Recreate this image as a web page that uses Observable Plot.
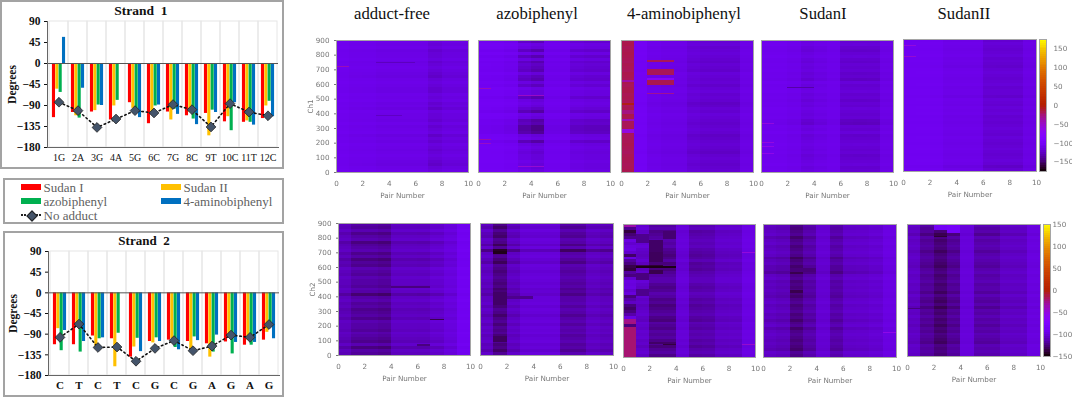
<!DOCTYPE html>
<html><head><meta charset="utf-8">
<script src="https://cdn.jsdelivr.net/npm/d3@7"></script>
<script src="https://cdn.jsdelivr.net/npm/@observablehq/plot@0.6"></script>
<style>
html,body{margin:0;padding:0;background:#fff;width:1072px;height:398px;overflow:hidden;position:relative}
.abs{position:absolute}
.box{position:absolute;border:2px solid #a3a3a3;box-sizing:border-box;background:#fff}
.serif{font-family:"Liberation Serif",serif}
.wrap{position:absolute}
.wrap svg,.abs svg{display:block;max-width:none;overflow:visible}
.wrap svg{filter:blur(.35px)}
</style></head><body>
<script>
// ---------- bar charts ----------
const strand1Labels=["1G","2A","3G","4A","5G","6C","7G","8C","9T","10C","11T","12C"];
const s1Sudan1=[-116,-105,-104,-121,-84,-129,-104,-112,-107,-125,-126,-118];
const s1Sudan2=[-55,-112,-101,-91,-96,-105,-121,-105,-155,-114,-123,-91];
const s1Azo=[-62,-117,-89,-79,-105,-91,-98,-119,-100,-144,-126,-81];
const s1Amino=[56,-53,-90,null,-116,-89,-109,-131,-105,-84,-132,-114];
const s1None=[-83,-101,-137,-119,-101,-106,-88,-99,-136,-86,-104,-112];
const strand2Labels=["C","T","C","T","C","G","C","G","A","G","A","G"];
const s2Sudan1=[-113,-113,-94,-100,-140,-106,-103,-106,-111,-107,-114,-103];
const s2Sudan2=[-78,-69,-118,-161,-118,-109,-100,-125,-140,-93,-103,-86];
const s2Azo=[-126,-129,-100,-88,-99,-98,-119,-96,-129,-133,-114,-74];
const s2Amino=[-82,-106,-98,null,-128,-106,-124,-104,-92,-108,-108,-100];
const s2None=[-97,-68,-119,-118,-149,-121,-104,-126,-116,-92,-97,-69];
const yTicks=[90,45,0,-45,-90,-135,-180];
const barColors=["#ff0000","#ffc000","#00b050","#0070c0"];
const legendItems=["Sudan I","Sudan II","azobiphenyl","4-aminobiphenyl"];

// ---------- heat maps: one base and one stripe strength per pair column, one stripe level per row (top to bottom) ----------
const t1Base=[-108,-110,-110,-112,-112,-112,-112,-119,-115,-115];
const t1Amp=[.8,1,1.2,1.6,1.6,1.5,1.5,3,2.2,2.2];
const t1Rows=[1,2,1,3,2,2,1,3,2,1,2,3,4,2,1,2,3,3,1,2,1,3,2,4,1,2,2,3,1,3,2,1,4,2,3,1,2,3,2,1,2,3,4,2,1];
const t1Streaks=[[0,1,715,725,-45],[3,6,740,750,-128],[3,5,380,388,-126]];
const t2Base=[-104,-104,-106,-114,-118,-108,-108,-114,-116,-116];
const t2Amp=[.6,.8,1,3.2,3.6,.8,.8,1.8,1.8,1.8];
const t2Rows=[5,1,2,6,1,6,2,6,4,5,6,2,5,6,2,5,1,2,2,6,2,1,2,4,7,1,2,7,6,9,9,8,2,1,7,2,1,2,3,2,2,1,2,2,1];
const t2Streaks=[[0,1,565,575,-45],[0,1,215,228,-40],[0,1,188,195,-50],[3,5,515,525,-50],[3,5,35,43,-55]];
const t3Base=[-18,-104,-110,-112,-112,-118,-120,-120,-120,-112];
const t3Amp=[1,.6,1,1,1,1.8,2,2,2,1];
const t3Rows=[2,1,3,2,1,2,3,4,2,3,4,1,2,3,2,4,2,1,3,2,3,5,4,2,3,1,2,3,4,3,2,3,5,4,3,2,3,4,5,3,2,3,4,3,2];
const t3Streaks=[[0,1,615,630,-40],[0,1,460,470,-5],[0,1,265,295,-60],[0,1,350,362,-45],[0,1,395,420,-30],[2,4,752,765,-20],[2,4,660,700,-20],[2,4,630,640,-75],[2,4,590,630,-18],[2,4,530,540,-35]];
const t4Base=[-108,-108,-110,-115,-112,-110,-120,-120,-120,-112];
const t4Amp=[.7,.8,1,2,1.5,.8,2,2.2,2,1];
const t4Rows=[2,1,3,4,2,1,3,4,2,3,2,4,3,5,1,3,2,1,3,2,4,2,3,1,2,3,2,5,6,2,3,1,4,3,2,1,2,3,2,4,3,2,1,3,2];
const t4Streaks=[[2,4,570,582,-135],[0,1,325,332,-60],[0,1,195,202,-60],[0,1,170,176,-65],[0,1,120,127,-65]];
const t5Base=[-106,-106,-107,-111,-111,-111,-120,-120,-120,-113];
const t5Amp=[.5,.6,.8,1.2,1.2,1.2,1.6,1.8,1.8,1];
const t5Rows=[3,1,2,3,2,1,3,2,3,4,2,1,2,3,2,1,3,2,2,4,1,2,3,1,2,1,3,2,3,2,1,2,3,1,2,3,2,1,2,3,2,1,2,5,2];
const t5Streaks=[[0,1,855,862,-60],[0,1,780,786,-55]];
const b1Base=[-108,-113,-113,-115,-106,-106,-106,-102,-98,-90];
const b1Amp=[2,3,3,3,2,2,2.2,2.2,1.4,.6];
const b1Rows=[3,4,2,5,3,2,6,4,3,2,5,3,6,4,5,2,3,4,2,3,3,4,2,3,7,3,2,4,3,5,4,3,5,2,3,3,4,2,3,4,5,2,6,3,4];
const b1Streaks=[[7,8,240,248,-135],[6,7,60,75,-125],[4,7,460,468,-125]];
const b2Base=[-106,-120,-106,-100,-100,-100,-113,-113,-106,-108];
const b2Amp=[2.5,3.2,2.4,1.6,1.6,1.6,2.6,2.6,2,2];
const b2Rows=[3,5,2,4,5,2,3,6,2,9,3,2,4,6,2,3,4,3,2,3,4,3,5,4,6,3,3,2,4,2,3,5,3,2,4,2,3,2,4,3,2,4,3,5,2];
const b2Streaks=[[1,2,690,712,-145],[1,2,340,430,-130],[2,3,395,405,-130],[2,4,385,405,-122],[1,2,90,130,-132]];
const b3Base=[-30,-102,-114,-114,-100,-110,-110,-104,-104,-96];
const b3Amp=[0,2,3,3,1.2,2.4,2,1.8,1.6,.8];
const b3Rows=[3,2,5,4,3,2,3,2,4,5,6,5,3,6,5,6,4,3,2,2,4,5,4,2,3,5,4,6,5,4,3,5,6,3,4,5,3,4,3,5,4,6,4,3,5];
const b3FirstColumn=[-35,-122,-138,-128,-122,-98,-105,-100,-98,-105,-130,-98,-118,-125,-135,-138,-118,-125,-105,-98,-100,-98,-105,-100,-125,-115,-108,-125,-130,-125,-115,-98,-28,-25,-125,-22,-22,-22,-22,-22,-22,-22,-22,-22,-22];
const b3Streaks=[[1,2,770,830,-122],[1,2,610,620,-135],[1,2,520,570,-125],[1,2,410,460,-122],[3,4,800,855,-128],[2,3,700,790,-130],[2,3,640,710,-132],[2,3,600,620,-140],[1,4,600,618,-146],[2,3,560,590,-135],[2,4,85,100,-130],[3,4,80,90,-138],[9,10,705,712,-50],[9,10,80,85,-45]];
const b4Base=[-106,-108,-120,-112,-102,-112,-104,-104,-102,-97];
const b4Amp=[2.2,2.2,3,2.4,1.2,2.4,1.8,1.6,1.4,.8];
const b4Rows=[3,4,3,2,5,3,2,4,3,2,3,6,4,3,5,5,7,3,2,4,3,4,3,4,5,3,2,4,3,2,4,3,5,3,2,5,3,2,3,4,3,4,5,2,3];
const b4Streaks=[[2,3,430,455,-135],[2,4,575,605,-126],[9,10,165,172,-55]];
const b5Base=[-106,-116,-124,-116,-100,-112,-112,-106,-106,-98];
const b5Amp=[1.6,2.2,2.6,2.4,.8,2.2,2.2,1.6,1.6,1];
const b5Rows=[2,4,3,6,2,4,3,2,3,5,3,2,3,4,5,3,2,4,3,2,4,3,3,5,2,4,5,3,6,3,4,2,4,3,5,3,4,2,3,4,5,2,3,2,3];
const b5Streaks=[[2,3,860,900,-88],[3,4,840,900,-85],[2,3,810,818,-140],[0,2,320,326,-125],[0,1,290,296,-130]];
const colorbarStepsTop=d3.range(-175,175,5);
const colorbarStepsBottom=d3.range(-150,150,5);
const pairTicks=[0,2,4,6,8,10];
const chTicks=[0,100,200,300,400,500,600,700,800,900];

const pm3d=t=>{const r=Math.sqrt(t),g=t*t*t,b=Math.max(0,Math.sin(2*Math.PI*t));return `rgb(${255*r|0},${255*g|0},${255*b|0})`;};

function place(node,left,top,w,h){
  const d=document.createElement("div");d.className="wrap";
  d.style.cssText=`left:${left}px;top:${top}px;width:${w}px;height:${h}px`;
  d.appendChild(node);document.body.appendChild(d);
}
function label(text,cx,top,css){
  const d=document.createElement("div");d.className="abs serif";
  d.style.cssText=`left:${cx-100}px;width:200px;text-align:center;top:${top}px;white-space:pre;${css}`;
  d.textContent=text;document.body.appendChild(d);
}

// ---------- boxes and bars ----------
function box(l,t,r,b){const d=document.createElement("div");d.className="box";d.style.cssText=`left:${l}px;top:${t}px;width:${r-l}px;height:${b-t}px`;document.body.appendChild(d);}
box(0,0,284,169);box(3,178,284,224);box(3,231,284,397);

function barChart(labels,series,none,left,top,w,h,xFont,xWeight){
  const ml=44,mr=6,mt=10,mb=26;
  const idx=d3.range(12);
  const bw=w/12,bar=3.35,gap=(bw-4*bar)/2;
  const barMarks=series.map((vals,s)=>Plot.barY(idx.filter(i=>vals[i]!=null),{
    x:i=>i,y1:()=>0,y2:i=>vals[i],fill:barColors[s],
    insetLeft:gap+s*bar,insetRight:gap+(3-s)*bar}));
  const node=Plot.plot({width:w+ml+mr,height:h+mt+mb,marginLeft:ml,marginRight:mr,marginTop:mt,marginBottom:mb,
    x:{type:"band",domain:idx,padding:0,label:null},
    y:{domain:[-180,90],ticks:yTicks,label:null},
    style:{fontFamily:"Liberation Serif",fontSize:"11.5px",color:"#111",background:"transparent"},
    marks:[
      Plot.barY(idx,{x:i=>i,y1:()=>-180,y2:()=>90,fill:"none",stroke:"#e6e6e6",strokeWidth:1}),
      ...barMarks,
      Plot.ruleY([0],{stroke:"#555",strokeWidth:1}),
      Plot.frame({anchor:"left",stroke:"#666"}),
      Plot.frame({anchor:"bottom",stroke:"#666"}),
      Plot.line(idx,{x:i=>i,y:i=>none[i],stroke:"#111",strokeWidth:1.6,strokeDasharray:"1.5,3",strokeLinecap:"round"}),
      Plot.dot(idx,{x:i=>i,y:i=>none[i],symbol:"diamond2",r:4.4,fill:"#44546a",stroke:"#222",strokeWidth:.8}),
      Plot.axisX({tickSize:0,tickPadding:6,label:null,tickFormat:i=>labels[i],fontSize:xFont,fontWeight:xWeight}),
      Plot.axisY(yTicks,{tickSize:3,tickPadding:4,label:"Degrees",labelAnchor:"center",labelArrow:"none",labelOffset:40,fontWeight:"bold"})
    ]});
  node.style.background="transparent";
  const d=document.createElement("div");d.className="abs";d.style.cssText=`left:${left-ml}px;top:${top-mt}px`;
  d.appendChild(node);document.body.appendChild(d);
}
barChart(strand1Labels,[s1Sudan1,s1Sudan2,s1Azo,s1Amino],s1None,47,21,231,126,10,"normal");
barChart(strand2Labels,[s2Sudan1,s2Sudan2,s2Azo,s2Amino],s2None,48,251,231,124,11,"bold");
label("Strand  1",141,3,"font-weight:bold;font-size:13.5px;color:#111");
label("Strand  2",144,233,"font-weight:bold;font-size:13px;color:#111");

// ---------- legend ----------
[[21,184,0],[161,184,1],[21,198,2],[161,198,3]].forEach(([x,y,i])=>{
  const s=document.createElement("div");s.className="abs";s.style.cssText=`left:${x}px;top:${y}px;width:20px;height:6px;background:${barColors[i]}`;document.body.appendChild(s);
  const t=document.createElement("div");t.className="abs serif";t.style.cssText=`left:${x+22.5}px;top:${y-4}px;font-size:13px;color:#5f5f5f;white-space:pre`;t.textContent=legendItems[i];document.body.appendChild(t);
});
{
  const l=document.createElement("div");l.className="abs";l.style.cssText="left:21px;top:214px;width:20px;border-top:2px dotted #222";document.body.appendChild(l);
  const m=document.createElement("div");m.className="abs";m.style.cssText="left:27.5px;top:211.5px;width:6px;height:6px;background:#44546a;border:.5px solid #222;transform:rotate(45deg)";document.body.appendChild(m);
  const t=document.createElement("div");t.className="abs serif";t.style.cssText="left:43.5px;top:208px;font-size:13px;color:#5f5f5f";t.textContent="No adduct";document.body.appendChild(t);
}

// ---------- heat maps ----------
function heat(o){
  const cells=[];
  o.rows.forEach((lv,r)=>{
    const y2=900-20*r;
    o.base.forEach((b,c)=>{
      let v=b-o.amp[c]*(lv-2);
      if(o.first&&c===0)v=o.first[r];
      cells.push({x1:c,x2:c+1,y1:y2-20,y2,v});
    });
  });
  const streaks=o.streaks.map(([x1,x2,y1,y2,v])=>({x1,x2,y1,y2,v}));
  const ml=o.ylab?34:4,mr=12,mt=3,mb=30;
  const axisColor="#777";
  const node=Plot.plot({width:o.w+ml+mr,height:o.h+mt+mb,marginLeft:ml,marginRight:mr,marginTop:mt,marginBottom:mb,
    x:{domain:[0,10],label:null},y:{domain:[0,900],label:null},
    color:{type:"linear",domain:o.domain,interpolate:pm3d,clamp:true},
    style:{fontFamily:"DejaVu Sans",fontSize:"7.2px",color:axisColor,background:"transparent"},
    marks:[
      Plot.rect(cells,{x1:"x1",x2:"x2",y1:"y1",y2:"y2",fill:"v",shapeRendering:"crispEdges"}),
      Plot.rect(streaks,{x1:"x1",x2:"x2",y1:"y1",y2:"y2",fill:"v",shapeRendering:"crispEdges"}),
      Plot.frame({stroke:"#a5a5a5"}),
      Plot.axisX(pairTicks,{tickSize:0,tickPadding:8,label:"Pair Number",labelAnchor:"center",labelArrow:"none",labelOffset:25,color:axisColor}),
      Plot.axisY(chTicks,{tickSize:o.ylab?2:0,tickPadding:5,tickFormat:o.ylab?undefined:()=>"",label:o.ylab||null,labelAnchor:"center",labelArrow:"none",labelOffset:29,color:axisColor})
    ]});
  place(node,o.x-ml,o.y-mt,o.w+ml+mr,o.h+mt+mb);
}
function colorbar(x,y,w,h,domain,steps,ticks,pad,right){
  const node=Plot.plot({width:w+right,height:h+12,marginLeft:0,marginRight:right,marginTop:6,marginBottom:6,
    x:{domain:[0,1],axis:null},y:{domain,label:null},
    color:{type:"linear",domain,interpolate:pm3d},
    style:{fontFamily:"DejaVu Sans",fontSize:"7.2px",color:"#777",background:"transparent"},
    marks:[
      Plot.rect(steps,{x1:()=>0,x2:()=>1,y1:d=>d,y2:d=>d+5,fill:d=>d+2.5,shapeRendering:"crispEdges"}),
      Plot.frame({stroke:"#a5a5a5"}),
      Plot.axisY(ticks,{anchor:"right",tickSize:0,tickPadding:pad,label:null,color:"#777"})
    ]});
  place(node,x,y-6,w+right,h+12);
}
const topDomain=[-175,175],botDomain=[-150,150];
heat({x:336,y:40,w:132,h:132,domain:topDomain,base:t1Base,amp:t1Amp,rows:t1Rows,streaks:t1Streaks,ylab:"Ch1"});
heat({x:478,y:40,w:132,h:132,domain:topDomain,base:t2Base,amp:t2Amp,rows:t2Rows,streaks:t2Streaks});
heat({x:621,y:40,w:132,h:132,domain:topDomain,base:t3Base,amp:t3Amp,rows:t3Rows,streaks:t3Streaks});
heat({x:761,y:40,w:132,h:132,domain:topDomain,base:t4Base,amp:t4Amp,rows:t4Rows,streaks:t4Streaks});
heat({x:903,y:39,w:133,h:132,domain:topDomain,base:t5Base,amp:t5Amp,rows:t5Rows,streaks:t5Streaks});
heat({x:338,y:223,w:132,h:132,domain:botDomain,base:b1Base,amp:b1Amp,rows:b1Rows,streaks:b1Streaks,ylab:"Ch2"});
heat({x:480,y:223,w:133,h:132,domain:botDomain,base:b2Base,amp:b2Amp,rows:b2Rows,streaks:b2Streaks});
heat({x:623,y:224,w:132,h:133,domain:botDomain,base:b3Base,amp:b3Amp,rows:b3Rows,first:b3FirstColumn,streaks:b3Streaks});
heat({x:763,y:224,w:133,h:133,domain:botDomain,base:b4Base,amp:b4Amp,rows:b4Rows,streaks:b4Streaks});
heat({x:907,y:224,w:133,h:132,domain:botDomain,base:b5Base,amp:b5Amp,rows:b5Rows,streaks:b5Streaks});
colorbar(1039,39,7,132,topDomain,colorbarStepsTop,[-150,-100,-50,0,50,100,150],7,26);
colorbar(1043,224,7,132,botDomain,colorbarStepsBottom,[-150,-100,-50,0,50,100,150],2,22);

// ---------- panel titles ----------
const panelTitles=["adduct-free","azobiphenyl","4-aminobiphenyl","SudanI","SudanII"];
const titleCentres=[392,537,684,823,964];
panelTitles.forEach((t,i)=>label(t,titleCentres[i],4,"font-size:16.7px;color:#111"));
</script>
</body></html>
